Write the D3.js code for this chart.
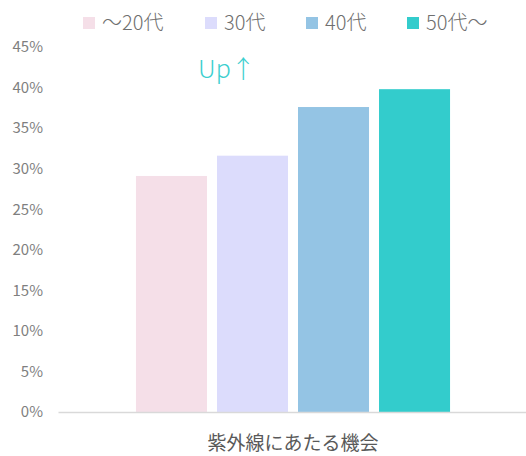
<!DOCTYPE html>
<html>
<head>
<meta charset="utf-8">
<script src="https://cdn.jsdelivr.net/npm/d3@7"></script>
<style>
  body { margin: 0; background: #fff; }
  svg { display: block; font-family: "Noto Sans CJK JP", "Noto Sans", sans-serif; }
</style>
</head>
<body>
<div id="chart"></div>
<script>
// data
var categories = ["紫外線にあたる機会"];
var seriesNames = ["～20代", "30代", "40代", "50代～"];
var seriesValues = [29.1, 31.6, 37.6, 39.8];
var seriesColors = ["#f5dfe8", "#dcdcfc", "#94c4e4", "#33cccc"];
var yTicks = [0, 5, 10, 15, 20, 25, 30, 35, 40, 45];

var w = 526, h = 456;
var margin = { left: 58, right: 0, top: 47, bottom: 44 };

var svg = d3.select("#chart").append("svg").attr("width", w).attr("height", h);

// scales
var y = d3.scaleLinear().domain([0, 45]).range([h - margin.bottom, margin.top]);
var x0 = d3.scaleBand().domain(categories).range([margin.left + 1, w - margin.right + 1])
  .paddingInner(0).paddingOuter(0.222);
var x1 = d3.scaleBand().domain(seriesNames).range([0, x0.bandwidth()])
  .paddingInner(10 / 81).paddingOuter(5 / 81);

// y axis labels (no line, no ticks)
var yaxis = d3.axisLeft(y).tickValues(yTicks).tickFormat(function(d) { return d + "%"; }).tickSize(0).tickPadding(0);
var gy = svg.append("g").attr("transform", "translate(43,0)").call(yaxis);
gy.select(".domain").remove();
gy.selectAll("text").style("font-size", "15px").style("fill", "#7f7f7f").style("font-family", "\"Noto Sans CJK JP\", sans-serif");

// bars
svg.append("g").selectAll("rect").data(seriesValues).enter().append("rect")
  .attr("x", function(d, i) { return x0(categories[0]) + x1(seriesNames[i]); })
  .attr("y", function(d) { return y(d); })
  .attr("width", x1.bandwidth())
  .attr("height", function(d) { return y(0) - y(d); })
  .style("fill", function(d, i) { return seriesColors[i]; });

// baseline
var xaxis = d3.axisBottom(x0).tickSize(0).tickFormat("");
var gx = svg.append("g").attr("transform", "translate(-1," + y(0) + ")").call(xaxis);
gx.select(".domain").attr("stroke", "#d9d9d9").attr("stroke-width", 1.5);

// category label
svg.append("text").attr("x", x0(categories[0]) + x0.bandwidth() / 2).attr("y", 450)
  .attr("text-anchor", "middle").style("font-size", "19px").style("fill", "#595959")
  .text(categories[0]);

// legend
var legendX = [83, 205, 306, 407];
var legend = svg.append("g").selectAll("g").data(seriesNames).enter().append("g")
  .attr("transform", function(d, i) { return "translate(" + legendX[i] + ",17)"; });
legend.append("rect").attr("width", 12).attr("height", 12)
  .style("fill", function(d, i) { return seriesColors[i]; });
legend.append("text").attr("x", 19).attr("y", 13).text(function(d) { return d; })
  .style("font-size", "20px").style("fill", "#6f6f6f").style("font-weight", 300);

// annotation
svg.append("text").attr("x", 198).attr("y", 78).text("Up↑")
  .style("font-size", "25px").style("fill", "#3dcfcf").style("font-weight", 300);
</script>
</body>
</html>
